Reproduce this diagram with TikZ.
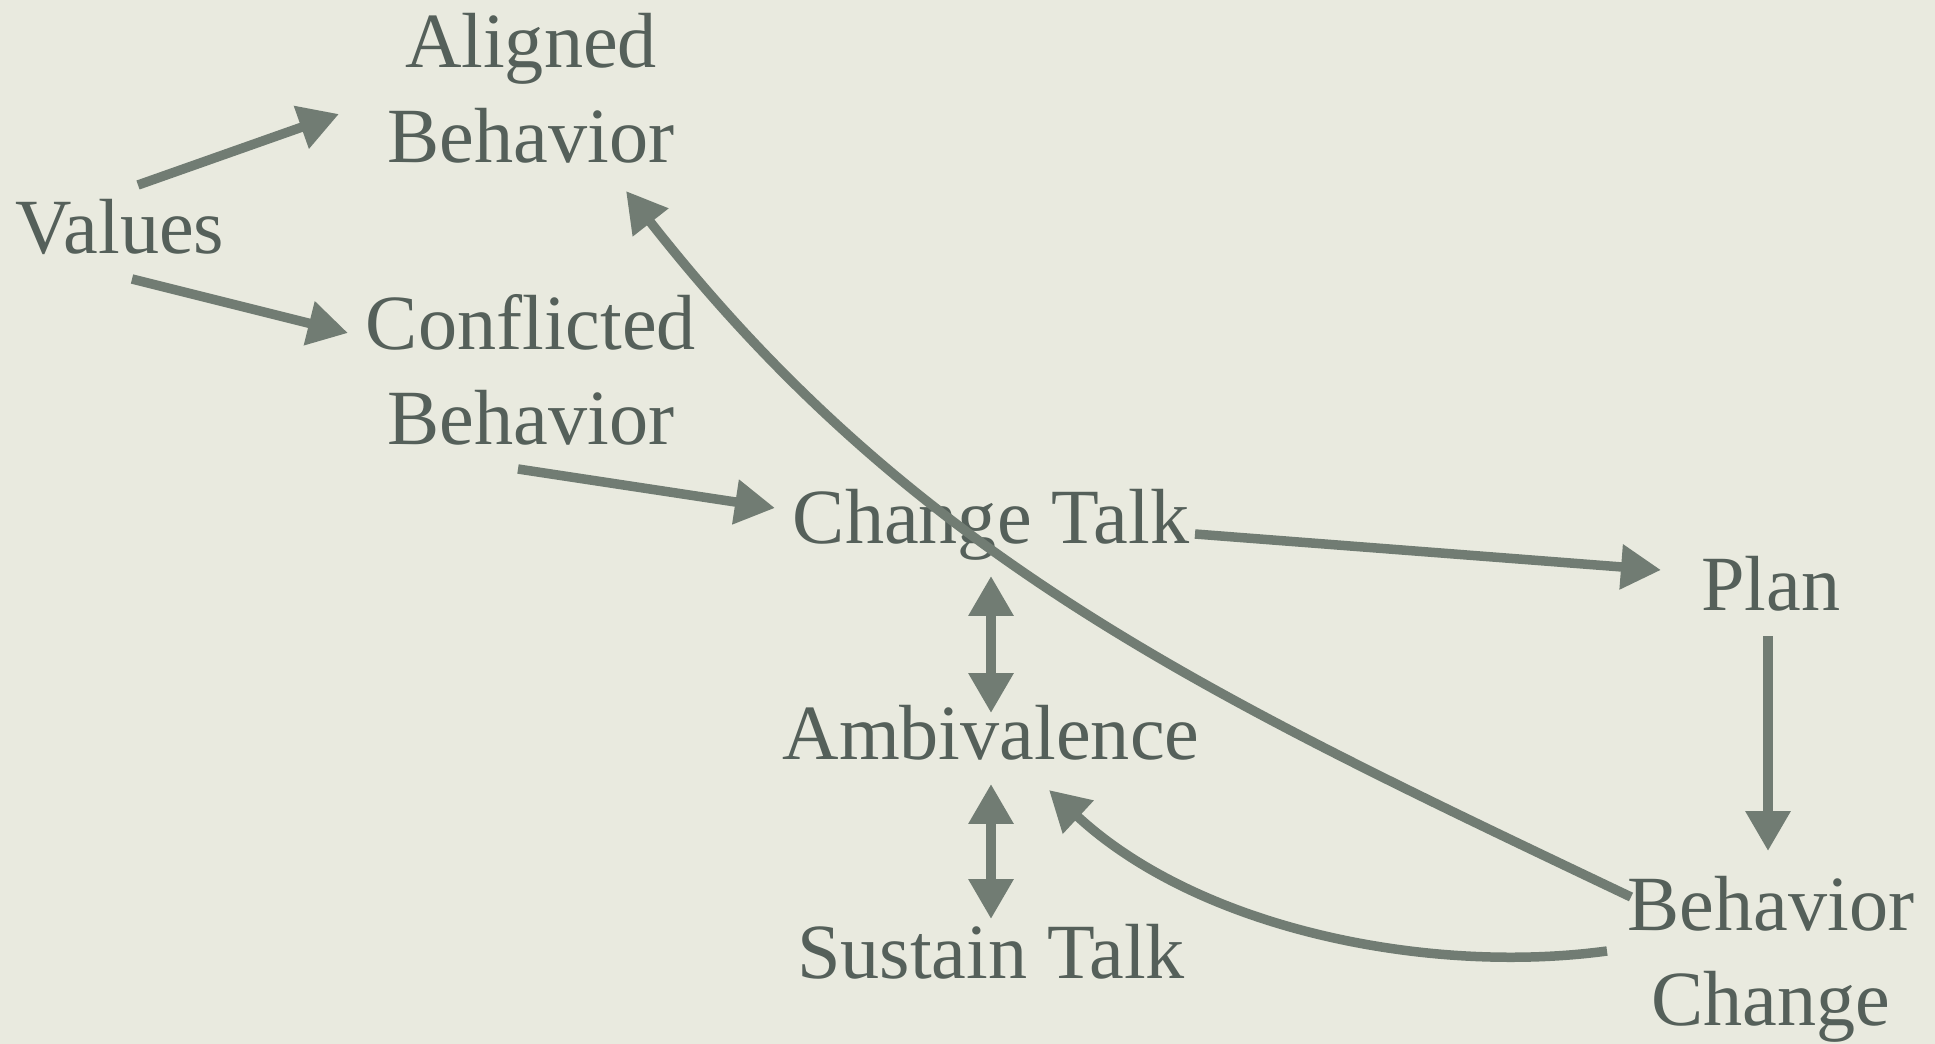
\documentclass[tikz,border=0pt]{standalone}
\usepackage{fontspec}
\setmainfont{Liberation Serif}
\usepackage{tikz}
\usetikzlibrary{arrows.meta}

\definecolor{paper}{HTML}{E9EADF}
\definecolor{ink}{HTML}{55605A}
\definecolor{arrowgrey}{HTML}{717C73}

\begin{document}
\begin{tikzpicture}[x=0.02cm,y=-0.02cm,
    lbl/.style={inner sep=0pt,text=ink,align=center,font=\fontsize{44.5}{54}\selectfont},
    arr/.style={draw=arrowgrey,line width=0.19cm,-{Triangle[length=0.8cm,width=0.86cm]}},
    darr/.style={arr,{Triangle[length=0.8cm,width=0.86cm]}-{Triangle[length=0.8cm,width=0.86cm]}}]

\fill [paper] (0,0) rectangle (1935,1044);
\useasboundingbox (0,0) rectangle (1935,1044);

\node [lbl] (values) at (120,227) {Values};
\node [lbl] (aligned) at (531,88) {Aligned\\Behavior};
\node [lbl] (conflicted) at (531,370) {Conflicted\\Behavior};
\node [lbl] (change) at (991,525) {Change Talk};
\node [lbl] (plan) at (1771,584) {Plan};
\node [lbl] (ambi) at (991,733) {Ambivalence};
\node [lbl] (sustain) at (991,952) {Sustain Talk};
\node [lbl] (bchange) at (1771,959) {Behavior\\Change};

\draw [arr] ([shift={(18,-42)}]values.center) -- ([shift={(-192,26)}]aligned.center);
\draw [arr] ([shift={(12,52)}]values.center) -- ([shift={(-183,-37)}]conflicted.center);
\draw [arr] ([shift={(-13,99)}]conflicted.center) -- ([shift={(-216,-17)}]change.center);
\draw [arr] ([shift={(204,9)}]change.center) -- ([shift={(-110,-14)}]plan.center);
\draw [arr] ([shift={(-3,52)}]plan.center) -- ([shift={(-3,-108)}]bchange.center);

\draw [darr] ([shift={(0,51)}]change.center) -- ([shift={(0,-20)}]ambi.center);
\draw [darr] ([shift={(0,51)}]ambi.center) -- ([shift={(0,-33)}]sustain.center);

% feedback curves
\draw [arr] ([shift={(-164,-8)}]bchange.center) .. controls +(-177,24) and +(151,140) .. ([shift={(58,57)}]ambi.center);
\draw [arr] ([shift={(-140,-62)}]bchange.center) .. controls +(-420,-200) and +(290,370) .. ([shift={(95,103)}]aligned.center);

\end{tikzpicture}
\end{document}
